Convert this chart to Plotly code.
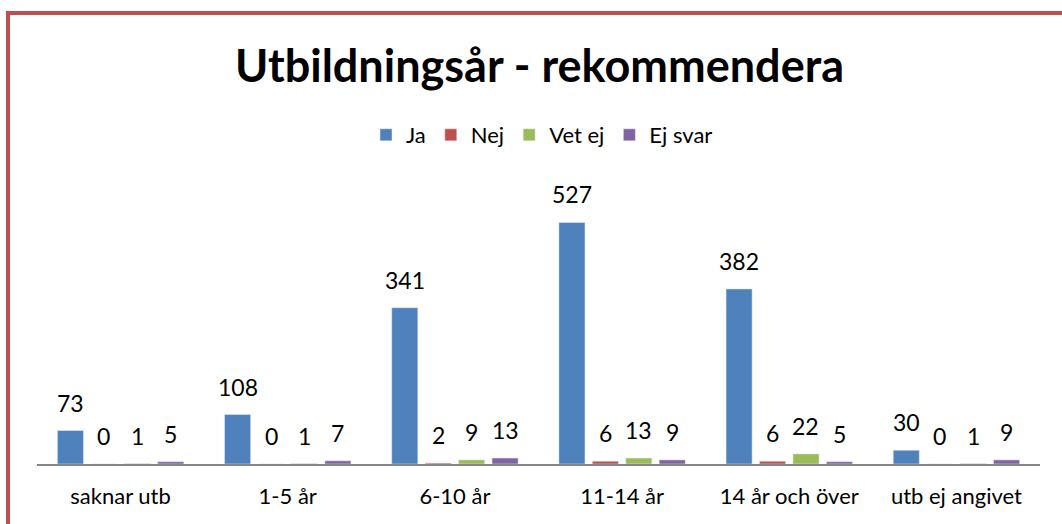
import plotly.graph_objects as go

categories = ["saknar utb", "1-5 år", "6-10 år", "11-14 år", "14 år och över", "utb ej angivet"]
ja = [73, 108, 341, 527, 382, 30]
nej = [0, 0, 2, 6, 6, 0]
vet_ej = [1, 1, 9, 13, 22, 1]
ej_svar = [5, 7, 13, 9, 5, 9]

series = [("Ja", ja, "#4F81BD"), ("Nej", nej, "#C0504D"),
          ("Vet ej", vet_ej, "#9BBB59"), ("Ej svar", ej_svar, "#8064A2")]

FONT = "Lato"

W, H = 1062, 524
ml, mr, mt, mb = 37, 22, 189, 60
pw = W - ml - mr
ph = H - mt - mb
BARGAP, GROUPGAP = 0.2, 0.22

def px_x(p):
    return (p - ml) / pw

def px_y(p):
    return (H - mb - p) / ph

fig = go.Figure()
annotations = []
ncat = len(categories)
cw = pw / ncat
gw = cw * (1 - BARGAP)
slot = gw / len(series)
for i, (name, vals, col) in enumerate(series):
    fig.add_trace(go.Bar(x=categories, y=vals, name=name, marker_color=col))
    xs = -gw / 2 + slot * (i + 0.5)
    for c, v in zip(categories, vals):
        annotations.append(dict(x=c, y=v, xref="x", yref="y", text=str(v),
                                showarrow=False, xanchor="center", yanchor="bottom",
                                xshift=xs, yshift=12,
                                font=dict(size=23, color="black", family=FONT)))

fig.update_layout(
    width=W, height=H,
    margin=dict(l=ml, r=mr, t=mt, b=mb),
    paper_bgcolor="white", plot_bgcolor="white",
    barmode="group", bargap=BARGAP, bargroupgap=GROUPGAP,
    font=dict(family=FONT, size=22, color="black"),
    title=dict(text="<b>Utbildningsår - rekommendera</b>", x=px_x(539.5), xref="paper",
               xanchor="center", y=1 - 66 / H, yanchor="middle",
               font=dict(size=45, family=FONT, color="black")),
    legend=dict(orientation="h", x=px_x(542), xanchor="center", y=px_y(135), yanchor="middle",
                font=dict(size=22, family=FONT), itemwidth=30, traceorder="normal"),
    xaxis=dict(showline=True, linecolor="#868686", linewidth=2, ticks="",
               tickfont=dict(size=22, family=FONT), showgrid=False,
               ticklabelstandoff=12),
    yaxis=dict(range=[0, 600], visible=False, showgrid=False),
    annotations=annotations,
    shapes=[
        dict(type="line", xref="paper", yref="paper", x0=px_x(8), x1=px_x(8),
             y0=px_y(11), y1=px_y(530), line=dict(color="#C0504D", width=4)),
        dict(type="line", xref="paper", yref="paper", x0=px_x(6), x1=px_x(1070),
             y0=px_y(13), y1=px_y(13), line=dict(color="#C0504D", width=4)),
    ],
)

fig.write_html("out.html", config={"displayModeBar": False},
               post_script="document.body.style.margin='0';")
